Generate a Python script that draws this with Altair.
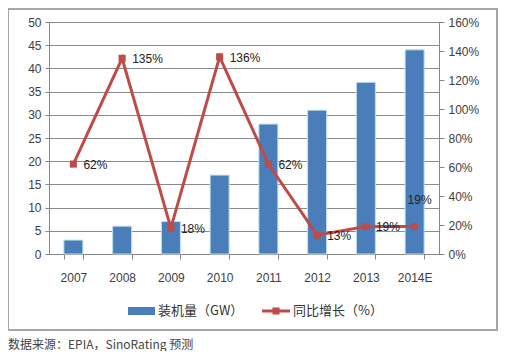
import altair as alt
import pandas as pd

years = ["2007", "2008", "2009", "2010", "2011", "2012", "2013", "2014E"]
capacity = [3, 6, 7, 17, 28, 31, 37, 44]
growth = [62, 135, 18, 136, 62, 13, 19, 19]
growth_labels = ["62%", "135%", "18%", "136%", "62%", "13%", "19%", "19%"]
series_names = ["装机量（GW）", "同比增长（%）"]
source_note = "数据来源：EPIA，SinoRating 预测"
left_ticks = list(range(0, 51, 5))
right_ticks = list(range(0, 161, 20))

df = pd.DataFrame({"year": years, "cap": capacity, "growth": growth, "label": growth_labels})

FONT = "Liberation Sans"
BLUE = "#4A7EBB"
RED = "#BE4B48"
TXT = "#404040"

x_enc = alt.X(
    "year:N", sort=years,
    scale=alt.Scale(paddingInner=0.61, paddingOuter=0.305),
    axis=alt.Axis(title=None, labelAngle=0, tickBand="extent", tickSize=5,
                  labelPadding=13, labelFontSize=12, labelColor=TXT, labelFont=FONT,
                  domainColor="#868686", tickColor="#868686"),
)

base = alt.Chart(df)

bars = base.mark_bar(color=BLUE, stroke="#BFE0EC", strokeWidth=1).encode(
    x=x_enc,
    y=alt.Y("cap:Q", scale=alt.Scale(domain=[0, 50], nice=False),
            axis=alt.Axis(title=None, orient="left", values=left_ticks, grid=True,
                          gridColor="#8C8C8C", gridWidth=1, tickSize=4, labelPadding=4,
                          labelFontSize=12, labelColor=TXT, labelFont=FONT,
                          domainColor="#868686", tickColor="#868686")),
)

y_right = alt.Y("growth:Q", scale=alt.Scale(domain=[0, 160], nice=False),
                axis=alt.Axis(title=None, orient="right", values=right_ticks, grid=False,
                              labelExpr="datum.value + '%'", tickSize=5, labelPadding=4,
                              labelFontSize=12, labelColor=TXT, labelFont=FONT,
                              domainColor="#868686", tickColor="#868686"))

line = base.mark_line(color=RED, strokeWidth=3).encode(x=alt.X("year:N", sort=years), y=y_right)
pts = base.mark_point(shape="square", filled=True, color=RED, size=50, opacity=1).encode(
    x=alt.X("year:N", sort=years), y=y_right)
txt_main = base.transform_filter(alt.datum.year != "2014E").mark_text(
    align="left", baseline="middle", dx=10, dy=1, fontSize=12, font=FONT, color="#222"
).encode(x=alt.X("year:N", sort=years), y=y_right, text="label:N")
txt_last = base.transform_filter(alt.datum.year == "2014E").mark_text(
    align="center", baseline="middle", dx=5, dy=-26, fontSize=12, font=FONT, color="#222"
).encode(x=alt.X("year:N", sort=years), y=y_right, text="label:N")

right_layer = alt.layer(line, pts, txt_main, txt_last)

one = alt.Chart(pd.DataFrame({"k": [0]}))
border = one.mark_rect(fillOpacity=0, stroke="#A6A6A6", strokeWidth=2).encode(
    x=alt.value(-41), x2=alt.value(448), y=alt.value(-13), y2=alt.value(308))
leg_bar = one.mark_rect(color=BLUE).encode(
    x=alt.value(79), x2=alt.value(106), y=alt.value(285), y2=alt.value(293))
leg_bar_txt = one.mark_text(align="left", baseline="middle", fontSize=13,
                            font="Noto Sans CJK SC", color="#333").encode(
    x=alt.value(109), y=alt.value(289), text=alt.value(series_names[0]))
leg_line = one.mark_rule(color=RED, strokeWidth=3).encode(
    x=alt.value(213), x2=alt.value(241), y=alt.value(289))
leg_sq = one.mark_point(shape="square", filled=True, color=RED, size=50, opacity=1).encode(
    x=alt.value(227), y=alt.value(289))
leg_line_txt = one.mark_text(align="left", baseline="middle", fontSize=13,
                             font="Noto Sans CJK SC", color="#333").encode(
    x=alt.value(244), y=alt.value(289), text=alt.value(series_names[1]))
note = one.mark_text(align="left", baseline="middle", fontSize=12,
                     font="Noto Sans CJK SC", color="#444").encode(
    x=alt.value(-41), y=alt.value(323), text=alt.value(source_note))

deco = alt.layer(border, leg_bar, leg_bar_txt, leg_line, leg_sq, leg_line_txt, note)

chart = alt.layer(bars, right_layer, deco).resolve_scale(y="independent").properties(
    width=390, height=232,
    autosize=alt.AutoSizeParams(type="none"),
    padding={"left": 41, "top": 14, "right": 64, "bottom": 97},
).configure_view(stroke=None).configure(background="white")

chart.save("out.html", embed_options={"renderer": "svg", "actions": False})
